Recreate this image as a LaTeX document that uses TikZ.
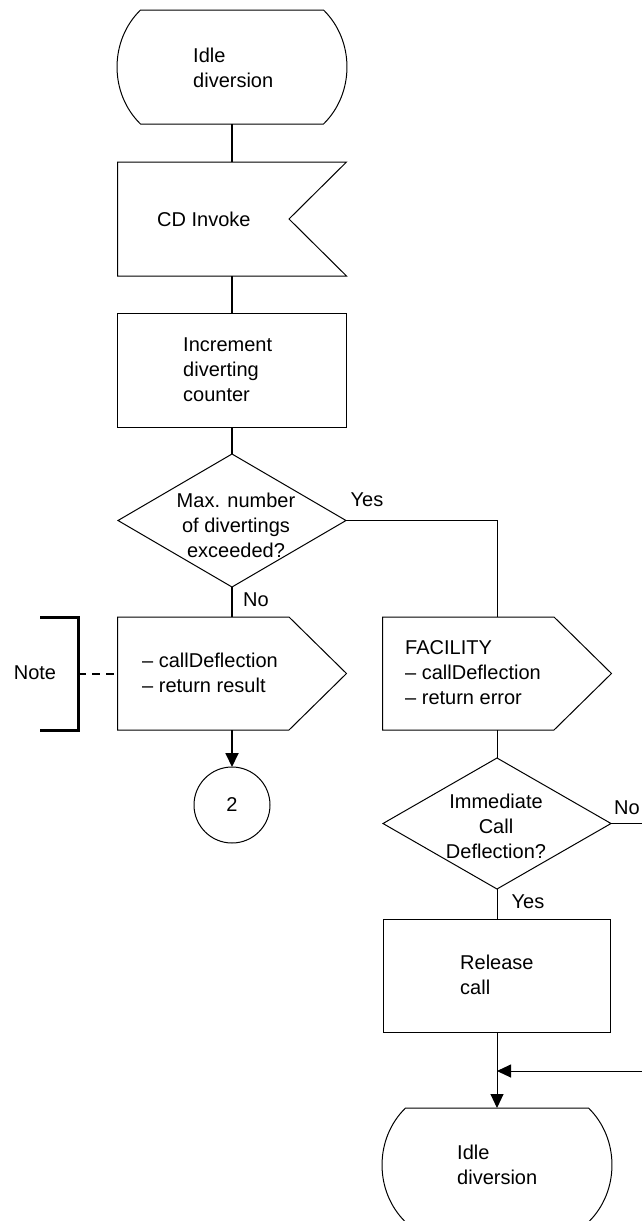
\documentclass[tikz,border=0pt]{standalone}
\usepackage{fontspec}
\setmainfont{Liberation Sans}
\usetikzlibrary{arrows.meta}

% outlines of the SDL symbols, drawn round a named frame node
\newcommand\stateoutline[1]{\draw[outline, shift={(#1.center)}]
  (-91.5,-57) -- (91.5,-57) .. controls (122.8,-26.4) and (122.8,26.4) .. (91.5,57)
  -- (-91.5,57) .. controls (-122.8,26.4) and (-122.8,-26.4) .. cycle;}
\newcommand\inputoutline[1]{\draw[outline, shift={(#1.center)}]
  (-114.5,-57) -- (114.5,-57) -- (57,0) -- (114.5,57) -- (-114.5,57) -- cycle;}
\newcommand\outputoutline[1]{\draw[outline, shift={(#1.center)}]
  (-114.5,-56.5) -- (57,-56.5) -- (114.5,0) -- (57,56.5) -- (-114.5,56.5) -- cycle;}
\newcommand\decisionoutline[1]{\draw[outline]
  (#1.north) -- (#1.east) -- (#1.south) -- (#1.west) -- cycle;}

\begin{document}
\begin{tikzpicture}[x=1pt,y=-1pt,
  frame/.style={draw=none, inner sep=0pt, outer sep=0pt},
  outline/.style={line width=1pt, line join=miter},
  txt/.style={inner sep=0pt, font=\fontsize{20}{25}\selectfont, align=left},
  ctxt/.style={txt, align=center},
  mainline/.style={line width=1.8pt},
  sideline/.style={line width=1pt},
  arr/.style={-{Triangle[length=14pt,width=13pt]}},
  notebracket/.style={line width=3pt},
  notelink/.style={line width=2pt, dash pattern=on 8pt off 6pt}]

\fill[white] (0,0) rectangle (642,1221);
\useasboundingbox (0,0) rectangle (642,1221);

% ---- left column
\node[frame, minimum width=230pt, minimum height=114pt] (st1) at (232,67) {};
\stateoutline{st1}
\node[txt, anchor=west] (tst1) at (193,67.5) {Idle\\diversion};

\node[frame, minimum width=229pt, minimum height=114pt] (in1) at (232,219) {};
\inputoutline{in1}
\node[txt, anchor=west] (tin1) at (157,219) {CD Invoke};

\node[draw, outline, inner sep=0pt, outer sep=0pt, minimum width=229pt, minimum height=114pt] (task1) at (232,370) {};
\node[txt, anchor=west] (ttask1) at (183,370) {Increment\\diverting\\counter};

\node[frame, minimum width=228pt, minimum height=133pt] (dec1) at (232,520.5) {};
\decisionoutline{dec1}
\node[ctxt] (tdec1) at (236,525) {Max. number\\of divertings\\exceeded?};
\node[txt] (yes1) at (367,500) {Yes};
\node[txt] (no1) at (256,600) {No};

\node[frame, minimum width=229pt, minimum height=113pt] (out1) at (232,673.5) {};
\outputoutline{out1}
\node[txt, anchor=west] (tout1) at (142,672.5) {– callDeflection\\– return result};

\node[frame, minimum width=38pt, minimum height=113pt] (bracket) at (59,673.5) {};
\draw[notebracket] (bracket.north west) -- (bracket.north east)
  -- (bracket.south east) -- (bracket.south west);
\node[txt] (notetext) at (35,673) {Note};

\node[draw, outline, circle, inner sep=0pt, outer sep=0pt, minimum size=76pt,
  font=\fontsize{20}{25}\selectfont] (c2) at (232,805) {2};

% ---- right column
\node[frame, minimum width=229pt, minimum height=113pt] (out2) at (497,673.5) {};
\outputoutline{out2}
\node[txt, anchor=west] (tout2) at (405,673) {FACILITY\\– callDeflection\\– return error};

\node[frame, minimum width=228pt, minimum height=131pt] (dec2) at (497,823.5) {};
\decisionoutline{dec2}
\node[ctxt] (tdec2) at (496,826) {Immediate\\Call\\Deflection?};
\node[txt] (no2) at (627,808) {No};
\node[txt] (yes2) at (528,902) {Yes};

\node[draw, outline, inner sep=0pt, outer sep=0pt, minimum width=227pt, minimum height=113pt] (task2) at (497,975.5) {};
\node[txt, anchor=west] (ttask2) at (460,974.5) {Release\\call};

\node[frame, minimum width=229pt, minimum height=114pt] (st2) at (497,1165) {};
\stateoutline{st2}
\node[txt, anchor=west] (tst2) at (457,1165) {Idle\\diversion};

\coordinate (offpage) at (665,823.5);
\coordinate (join) at (497,1071);

% ---- connectors
\draw[mainline] (st1.south) -- (in1.north);
\draw[mainline] (in1.south) -- (task1.north);
\draw[mainline] (task1.south) -- (dec1.north);
\draw[mainline] (dec1.south) -- (out1.north);
\draw[sideline] (dec1.east) -| (out2.north);
\draw[mainline, arr] (out1.south) -- (c2.north);
\draw[notelink] (bracket.east) -- (out1.west);
\draw[sideline] (out2.south) -- (dec2.north);
\draw[sideline] (dec2.south) -- (task2.north);
\draw[sideline, arr] (task2.south) -- (st2.north);
\draw[sideline, arr] (dec2.east) -- (offpage) |- (join);

\end{tikzpicture}
\end{document}
